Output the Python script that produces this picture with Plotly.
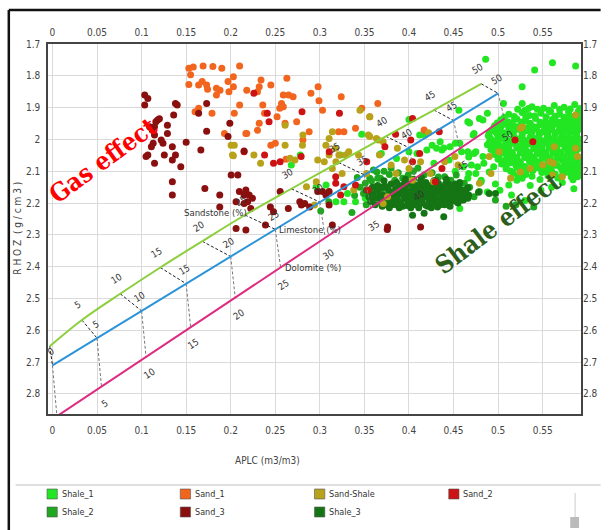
import plotly.graph_objects as go

# ---------------- data ----------------
PHI = [0, 5, 10, 15, 20, 25, 30, 35, 40, 45, 50]
SAND_APLC = [-0.003, 0.033, 0.076, 0.121, 0.168, 0.216, 0.268, 0.321, 0.374, 0.428, 0.481]
SAND_RHOB = [2.65, 2.5675, 2.485, 2.4025, 2.32, 2.2375, 2.155, 2.0725, 1.99, 1.9075, 1.825]
LIME_APLC = [0.0, 0.05, 0.10, 0.15, 0.20, 0.25, 0.30, 0.35, 0.40, 0.45, 0.50]
LIME_RHOB = [2.71, 2.6245, 2.539, 2.4535, 2.368, 2.2825, 2.197, 2.1115, 2.026, 1.9405, 1.855]
DOLO_APLC = [0.005, 0.055, 0.105, 0.155, 0.205, 0.256, 0.306, 0.357, 0.407, 0.457, 0.507]
DOLO_RHOB = [2.87, 2.7765, 2.683, 2.5895, 2.496, 2.4025, 2.309, 2.2155, 2.122, 2.0285, 1.935]

X_TICKS = [0, 0.05, 0.1, 0.15, 0.2, 0.25, 0.3, 0.35, 0.4, 0.45, 0.5, 0.55]
X_TICKTEXT = ["0", "0.05", "0.1", "0.15", "0.2", "0.25", "0.3", "0.35", "0.4", "0.45", "0.5", "0.55"]
Y_TICKS = [1.7, 1.8, 1.9, 2.0, 2.1, 2.2, 2.3, 2.4, 2.5, 2.6, 2.7, 2.8]
Y_TICKTEXT = ["1.7", "1.8", "1.9", "2", "2.1", "2.2", "2.3", "2.4", "2.5", "2.6", "2.7", "2.8"]

SERIES_NAMES = ["Shale_1", "Sand_1", "Sand-Shale", "Sand_2", "Shale_2", "Sand_3", "Shale_3"]
SERIES_COLORS = ["#22e622", "#f2651f", "#b8a21a", "#cc1212", "#1fa81f", "#8a0f0f", "#157515"]

SHALE_1 = [
    (0.522,1.905),(0.538,1.897),(0.551,1.902),(0.563,1.893),(0.574,1.899),(0.586,1.890),(0.592,1.903),
    (0.512,1.921),(0.527,1.915),(0.535,1.925),(0.548,1.918),(0.559,1.912),(0.569,1.921),(0.579,1.914),(0.588,1.922),
    (0.503,1.938),(0.511,1.945),(0.521,1.936),(0.531,1.942),(0.542,1.934),(0.553,1.944),(0.561,1.937),(0.570,1.946),(0.578,1.933),(0.585,1.941),(0.591,1.935),
    (0.496,1.957),(0.507,1.952),(0.517,1.960),(0.526,1.951),(0.538,1.958),(0.548,1.953),(0.556,1.961),(0.565,1.950),(0.574,1.957),(0.582,1.962),(0.589,1.952),
    (0.492,1.972),(0.501,1.967),(0.512,1.975),(0.522,1.968),(0.532,1.973),(0.543,1.966),(0.552,1.976),(0.560,1.969),(0.568,1.974),(0.577,1.965),(0.584,1.975),(0.591,1.968),
    (0.489,1.988),(0.499,1.983),(0.508,1.990),(0.517,1.981),(0.527,1.987),(0.536,1.992),(0.546,1.982),(0.556,1.989),(0.564,1.984),(0.572,1.991),(0.580,1.980),(0.588,1.987),
    (0.494,2.003),(0.504,1.998),(0.513,2.006),(0.523,1.999),(0.531,2.004),(0.542,1.997),(0.551,2.005),(0.559,1.999),(0.567,2.006),(0.576,1.998),(0.584,2.004),(0.591,1.999),
    (0.488,2.017),(0.498,2.013),(0.507,2.020),(0.516,2.012),(0.526,2.018),(0.535,2.014),(0.545,2.021),(0.554,2.012),(0.562,2.019),(0.571,2.013),(0.579,2.020),(0.587,2.014),
    (0.492,2.032),(0.502,2.028),(0.511,2.035),(0.521,2.027),(0.531,2.033),(0.540,2.029),(0.549,2.036),(0.557,2.027),(0.566,2.034),(0.575,2.028),(0.583,2.035),(0.590,2.029),
    (0.496,2.047),(0.506,2.043),(0.516,2.050),(0.525,2.042),(0.535,2.048),(0.544,2.044),(0.553,2.051),(0.562,2.043),(0.570,2.049),(0.578,2.042),(0.586,2.050),
    (0.500,2.062),(0.510,2.058),(0.520,2.065),(0.530,2.057),(0.541,2.063),(0.551,2.059),(0.560,2.066),(0.568,2.058),(0.577,2.064),(0.585,2.057),(0.592,2.063),
    (0.504,2.077),(0.514,2.073),(0.525,2.080),(0.536,2.072),(0.547,2.078),(0.557,2.074),(0.566,2.081),(0.575,2.073),(0.583,2.079),(0.590,2.074),
    (0.509,2.092),(0.521,2.088),(0.533,2.095),(0.545,2.089),(0.556,2.094),(0.570,2.088),(0.581,2.095),(0.590,2.089),
    (0.517,2.106),(0.531,2.110),(0.549,2.104),(0.564,2.109),(0.577,2.103),(0.588,2.110),
    (0.527,2.122),(0.547,2.126),(0.567,2.121),(0.584,2.127),
    (0.530,1.909),(0.544,1.905),(0.557,1.908),(0.569,1.906),(0.581,1.904),(0.590,1.911),
    (0.507,1.930),(0.518,1.928),(0.531,1.931),(0.541,1.926),(0.554,1.929),(0.564,1.927),(0.574,1.930),(0.583,1.928),(0.591,1.928),
    (0.499,1.948),(0.516,1.947),(0.526,1.945),(0.536,1.949),(0.547,1.946),(0.557,1.950),(0.566,1.944),(0.575,1.949),(0.582,1.947),(0.589,1.945),
    (0.495,1.963),(0.503,1.960),(0.512,1.964),(0.521,1.960),(0.533,1.963),(0.543,1.961),(0.552,1.964),(0.561,1.958),(0.569,1.963),(0.578,1.961),(0.586,1.957),(0.592,1.960),
    (0.490,1.979),(0.497,1.976),(0.506,1.979),(0.517,1.976),(0.527,1.979),(0.538,1.977),(0.548,1.978),(0.556,1.976),(0.564,1.979),(0.573,1.978),(0.581,1.977),(0.588,1.979),
    (0.491,1.995),(0.500,1.991),(0.509,1.997),(0.518,1.993),(0.527,1.996),(0.537,1.993),(0.546,1.996),(0.555,1.993),(0.563,1.996),(0.571,1.994),(0.580,1.992),(0.587,1.995),
    (0.490,2.010),(0.500,2.007),(0.509,2.011),(0.518,2.007),(0.527,2.011),(0.537,2.008),(0.546,2.011),(0.555,2.006),(0.563,2.012),(0.572,2.007),(0.580,2.011),(0.589,2.008),
    (0.495,2.024),(0.503,2.021),(0.512,2.026),(0.521,2.021),(0.530,2.025),(0.540,2.022),(0.549,2.026),(0.558,2.021),(0.566,2.025),(0.575,2.021),(0.583,2.026),(0.591,2.022),
    (0.497,2.040),(0.507,2.037),(0.516,2.041),(0.526,2.037),(0.535,2.041),(0.545,2.038),(0.554,2.041),(0.562,2.036),(0.570,2.041),(0.579,2.037),(0.587,2.041),
    (0.501,2.054),(0.511,2.051),(0.521,2.056),(0.530,2.052),(0.540,2.055),(0.549,2.052),(0.558,2.056),(0.566,2.051),(0.574,2.055),(0.582,2.051),(0.590,2.055),
    (0.505,2.069),(0.515,2.066),(0.525,2.070),(0.535,2.066),(0.546,2.070),(0.556,2.067),(0.564,2.071),(0.572,2.066),(0.581,2.070),(0.589,2.067),
    (0.509,2.084),(0.520,2.081),(0.530,2.085),(0.540,2.081),(0.551,2.085),(0.562,2.082),(0.576,2.085),(0.586,2.082),
    (0.514,2.099),(0.526,2.101),(0.539,2.098),(0.553,2.099),(0.560,2.100),(0.572,2.097),(0.584,2.100),(0.592,2.098),
    (0.522,2.114),(0.538,2.116),(0.556,2.114),(0.572,2.113),(0.582,2.117),(0.591,2.113),
    (0.486,1.748),(0.561,1.759),(0.587,1.769),(0.541,1.782),(0.527,1.834),(0.506,1.887),(0.527,1.887),(0.534,1.903),
    (0.488,1.918),(0.483,1.939),(0.479,1.934),(0.456,1.908),(0.400,1.937),(0.468,1.948),(0.473,1.981),(0.466,1.944),
    (0.472,1.986),(0.412,1.986),(0.418,1.986),(0.426,2.018),(0.431,2.028),(0.435,2.007),(0.437,2.033),(0.420,2.033),
    (0.446,2.023),(0.452,2.012),(0.457,2.012),(0.459,2.039),(0.466,2.039),(0.475,2.039),(0.483,2.054),(0.470,2.080),
    (0.477,2.086),(0.490,2.102),(0.481,2.133),(0.466,2.122),(0.459,2.170),(0.457,2.217),(0.369,2.044),(0.386,2.060),
    (0.409,2.044),(0.400,2.039),(0.347,1.984),(0.367,2.047),(0.323,2.049),(0.278,2.049),(0.268,2.080),(0.318,2.196),
    (0.327,2.196),(0.340,2.196),(0.351,2.185),(0.331,2.170),(0.296,2.149),(0.307,2.143),(0.439,2.027),(0.467,2.055),
    (0.461,2.086),(0.467,2.107),(0.481,2.128),(0.488,2.165),(0.475,2.107),(0.484,2.075),(0.495,2.086),(0.508,2.065),
    (0.512,2.143),(0.521,2.128),(0.589,2.117),(0.473,2.044),(0.502,2.160),(0.515,2.175),(0.536,2.145),(0.548,2.160),
    (0.585,2.155),(0.572,2.135),(0.497,2.140),(0.530,2.192),(0.560,2.150),(0.445,2.065),(0.428,2.075),(0.452,2.100),
]

SHALE_2 = [
    (0.360,2.096),(0.365,2.122),(0.358,2.130),(0.349,2.170),(0.384,2.128),(0.393,2.122),(0.417,2.112),(0.440,2.117),
    (0.462,2.138),(0.455,2.159),(0.351,2.138),(0.356,2.122),(0.362,2.149),(0.368,2.122),(0.371,2.154),(0.358,2.175),
    (0.364,2.102),(0.372,2.100),(0.310,2.196),(0.301,2.225),(0.378,2.110),(0.388,2.105),(0.399,2.112),(0.405,2.100),
    (0.426,2.105),(0.433,2.118),(0.447,2.128),(0.453,2.112),(0.468,2.150),(0.473,2.180),(0.479,2.164),(0.345,2.150),
    (0.339,2.176),(0.352,2.205),(0.342,2.120),(0.380,2.090),(0.410,2.090),(0.336,2.230),(0.497,2.190),(0.509,2.210),
    (0.520,2.205),(0.540,2.212),
]

SHALE_3 = [
    (0.358,2.170),(0.362,2.185),(0.366,2.158),(0.369,2.200),(0.371,2.175),(0.374,2.148),(0.376,2.190),(0.378,2.165),
    (0.381,2.205),(0.383,2.180),(0.385,2.155),(0.386,2.135),(0.388,2.195),(0.390,2.170),(0.392,2.150),(0.393,2.210),
    (0.395,2.185),(0.397,2.162),(0.399,2.140),(0.400,2.198),(0.402,2.175),(0.404,2.155),(0.405,2.125),(0.407,2.205),
    (0.409,2.185),(0.410,2.165),(0.412,2.145),(0.414,2.195),(0.416,2.175),(0.417,2.155),(0.419,2.135),(0.421,2.210),
    (0.422,2.188),(0.424,2.168),(0.426,2.148),(0.428,2.198),(0.429,2.178),(0.431,2.158),(0.433,2.138),(0.435,2.190),
    (0.436,2.170),(0.438,2.150),(0.440,2.205),(0.442,2.182),(0.443,2.162),(0.445,2.142),(0.447,2.195),(0.449,2.175),
    (0.450,2.155),(0.452,2.185),(0.454,2.165),(0.456,2.148),(0.458,2.178),(0.460,2.160),(0.463,2.170),(0.466,2.152),
    (0.396,2.125),(0.414,2.120),(0.430,2.128),(0.380,2.140),(0.372,2.130),(0.365,2.145),(0.389,2.215),(0.411,2.215),
    (0.432,2.212),(0.446,2.210),(0.404,2.238),(0.417,2.232),(0.439,2.243),(0.378,2.215),(0.352,2.160),(0.357,2.195),
    (0.400,2.180),(0.420,2.160),(0.440,2.170),(0.425,2.185),(0.393,2.165),(0.415,2.200),(0.437,2.195),(0.408,2.145),
    (0.385,2.175),(0.448,2.160),(0.455,2.200),(0.461,2.190),(0.467,2.175),(0.427,2.140),(0.398,2.190),(0.418,2.180),
    (0.443,2.180),(0.382,2.195),(0.367,2.178),(0.375,2.205),(0.406,2.165),(0.434,2.165),(0.452,2.140),(0.362,2.205),
    (0.490,2.170),(0.497,2.170),(0.478,2.166),
    (0.360,2.178),(0.364,2.162),(0.368,2.190),(0.370,2.150),(0.373,2.182),(0.377,2.158),(0.379,2.198),(0.380,2.175),
    (0.384,2.165),(0.387,2.185),(0.389,2.145),(0.391,2.200),(0.394,2.175),(0.396,2.152),(0.398,2.208),(0.401,2.165),
    (0.403,2.190),(0.405,2.140),(0.408,2.175),(0.410,2.200),(0.411,2.155),(0.413,2.130),(0.415,2.185),(0.418,2.165),
    (0.419,2.207),(0.421,2.145),(0.423,2.178),(0.425,2.200),(0.426,2.160),(0.428,2.130),(0.430,2.188),(0.432,2.168),
    (0.433,2.148),(0.435,2.205),(0.437,2.180),(0.439,2.160),(0.441,2.140),(0.441,2.193),(0.444,2.172),(0.446,2.152),
    (0.448,2.185),(0.450,2.165),(0.451,2.145),(0.453,2.195),(0.455,2.175),(0.457,2.158),(0.459,2.190),(0.461,2.170),
    (0.464,2.160),(0.466,2.185),(0.386,2.205),(0.402,2.215),(0.425,2.215),(0.395,2.138),(0.417,2.142),(0.370,2.210),
    (0.355,2.180),(0.359,2.150),(0.442,2.125),(0.457,2.135),
]

SAND_1 = [
    (0.153,1.776),(0.169,1.769),(0.180,1.771),(0.190,1.776),(0.210,1.769),(0.155,1.797),(0.168,1.818),(0.164,1.829),
    (0.173,1.829),(0.174,1.842),(0.184,1.839),(0.188,1.845),(0.197,1.818),(0.203,1.803),(0.203,1.834),(0.198,1.850),
    (0.218,1.845),(0.153,1.827),(0.184,1.860),(0.164,1.902),(0.160,1.913),(0.179,1.918),(0.204,1.918),(0.210,1.892),
    (0.217,1.981),(0.193,1.981),(0.232,1.834),(0.230,1.850),(0.234,1.813),(0.245,1.829),(0.263,1.808),(0.259,1.860),
    (0.265,1.860),(0.270,1.866),(0.257,1.887),(0.255,1.902),(0.259,1.897),(0.298,1.834),(0.290,1.855),(0.299,1.878),
    (0.303,1.908),(0.324,1.866),(0.347,1.902),(0.365,1.887),(0.218,1.981),(0.230,1.971),(0.232,1.949),(0.238,1.918),
    (0.245,2.018),(0.250,2.012),(0.261,1.949),(0.274,1.944),(0.288,1.976),(0.281,2.002),(0.321,1.976),(0.327,1.976),
    (0.340,1.965),(0.252,1.929),(0.356,1.929),(0.417,1.970),(0.158,1.772),(0.262,2.062),(0.236,1.892),
]

SAND_SHALE = [
    (0.2005,2.018),(0.203,2.051),(0.202,2.049),(0.226,2.049),(0.2335,2.075),(0.261,2.018),(0.261,1.955),(0.281,1.986),
    (0.2805,2.018),(0.272,2.065),(0.2665,2.059),(0.2976,2.065),(0.3068,2.018),(0.3104,1.997),(0.314,1.976),(0.3178,2.028),
    (0.3104,2.049),(0.305,2.070),(0.318,2.070),(0.3214,2.049),(0.3288,2.049),(0.314,2.091),(0.325,2.107),(0.3324,2.039),
    (0.345,1.908),(0.356,1.929),(0.3544,1.986),(0.3635,1.997),(0.371,2.007),(0.3434,2.049),(0.296,2.133),(0.285,2.149),
    (0.294,2.206),(0.338,2.159),(0.204,2.018),(0.356,1.991),(0.3654,2.002),(0.422,1.979),(0.367,2.049),(0.387,2.028),
    (0.395,2.065),(0.380,2.080),(0.400,2.091),(0.413,2.070),(0.424,2.107),(0.3855,2.107),(0.404,2.128),(0.4277,2.133),
    (0.4515,2.054),(0.455,2.080),(0.376,2.180),(0.371,2.201),(0.3525,2.107),(0.440,2.070),(0.525,1.965),(0.501,2.039),
    (0.490,2.054),(0.492,2.107),(0.479,2.138),(0.514,2.122),(0.525,2.102),(0.536,2.091),(0.550,2.080),(0.563,2.023),
    (0.572,2.117),(0.587,2.028),(0.589,2.054),(0.561,2.112),(0.558,2.070),(0.587,1.923),(0.527,1.961),(0.562,2.075),
]

SAND_2 = [
    (0.226,1.855),(0.241,1.918),(0.243,1.944),(0.280,1.913),(0.322,1.918),(0.215,2.039),(0.238,2.049),(0.248,2.075),
    (0.2555,2.070),(0.279,2.054),(0.3105,2.039),(0.3178,2.117),(0.3178,2.138),(0.327,2.149),(0.3233,2.175),(0.340,2.143),
    (0.404,1.934),(0.385,1.984),(0.434,1.976),(0.402,2.002),(0.373,2.023),(0.3526,2.070),(0.404,2.070),(0.412,2.044),
    (0.437,2.091),(0.4295,2.133),(0.354,2.159),(0.519,2.002),(0.539,2.007),
]

SAND_3 = [
    (0.1035,1.860),(0.107,1.871),(0.1035,1.892),(0.138,1.887),(0.140,1.892),(0.136,1.923),(0.118,1.939),(0.116,1.944),
    (0.1145,1.960),(0.109,1.960),(0.129,1.955),(0.129,1.981),(0.1145,1.986),(0.113,2.012),(0.111,2.023),(0.107,2.049),
    (0.105,2.054),(0.122,2.002),(0.124,2.012),(0.1255,2.049),(0.1345,2.023),(0.138,2.049),(0.1345,2.065),(0.144,2.086),
    (0.1145,2.075),(0.1345,2.133),(0.1345,2.175),(0.150,2.009),(0.1665,2.033),(0.173,1.974),(0.173,1.887),(0.164,1.918),
    (0.199,1.949),(0.197,1.991),(0.215,2.036),(0.2005,2.112),(0.208,2.112),(0.171,2.154),(0.1877,2.175),(0.2097,2.164),
    (0.215,2.175),(0.219,2.196),(0.1877,2.212),(0.217,2.159),(0.2207,2.175),(0.2244,2.185),(0.215,2.201),(0.206,2.196),
    (0.2225,2.217),(0.2445,2.212),(0.248,2.227),(0.2555,2.164),(0.2646,2.217),(0.2775,2.196),(0.2793,2.206),(0.283,2.201),
    (0.2885,2.212),(0.2976,2.164),(0.303,2.164),(0.3068,2.175),(0.3104,2.164),(0.217,2.285),(0.206,2.280),(0.239,2.269),
    (0.314,2.269),(0.3104,2.206),(0.3756,2.283),(0.413,2.275),(0.376,2.275),(0.120,1.935),(0.112,1.970),
]

SERIES_POINTS = [SHALE_1, SAND_1, SAND_SHALE, SAND_2, SHALE_2, SAND_3, SHALE_3]
DRAW_ORDER = [0, 4, 6, 1, 2, 3, 5]

# ---------------- geometry helpers (pixel -> paper) ----------------
W, H = 610, 530
ML, MR, MT, MB = 48, 18, 44, 116
PW, PH = W - ML - MR, H - MT - MB


def pp(px, py):
    return (px - ML) / PW, (MT + PH - py) / PH


fig = go.Figure()

for i in DRAW_ORDER:
    pts = SERIES_POINTS[i]
    fig.add_trace(go.Scatter(
        x=[p[0] for p in pts], y=[p[1] for p in pts], mode="markers",
        name=SERIES_NAMES[i], showlegend=False,
        marker=dict(size=7, color=SERIES_COLORS[i], line=dict(width=0)),
    ))

# connectors sandstone -> limestone -> dolomite
cx, cy = [], []
for k in range(len(PHI)):
    cx += [SAND_APLC[k], LIME_APLC[k], None]
    cy += [SAND_RHOB[k], LIME_RHOB[k], None]
fig.add_trace(go.Scatter(x=cx, y=cy, mode="lines", showlegend=False, hoverinfo="skip",
                         line=dict(color="#222222", width=1, dash="3px,2px")))
dx, dy = [], []
for k in range(len(PHI)):
    dx += [LIME_APLC[k], DOLO_APLC[k], None]
    dy += [LIME_RHOB[k], DOLO_RHOB[k], None]
fig.add_trace(go.Scatter(x=dx, y=dy, mode="lines", showlegend=False, hoverinfo="skip",
                         line=dict(color="#777777", width=1, dash="3px,2px")))

fig.add_trace(go.Scatter(x=SAND_APLC, y=SAND_RHOB, mode="lines", line=dict(color="#8ccf3c", width=2, shape="spline"), showlegend=False))
fig.add_trace(go.Scatter(x=LIME_APLC, y=LIME_RHOB, mode="lines", line=dict(color="#2d93d8", width=2), showlegend=False))
fig.add_trace(go.Scatter(x=DOLO_APLC, y=DOLO_RHOB, mode="lines", line=dict(color="#de2a80", width=2), showlegend=False))

# dummy trace for top/right axes
fig.add_trace(go.Scatter(x=[None], y=[None], xaxis="x2", yaxis="y2", showlegend=False))

XR = [-0.005, 0.593]
YR = [2.863, 1.7]

NARROW = "Liberation Sans Narrow, DejaVu Sans Condensed, sans-serif"
ann = []
lab_font = dict(family=NARROW, size=9.5, color="#333333")
for k, p in enumerate(PHI):
    if SAND_APLC[k] > XR[0] + 0.004:
        ann.append(dict(x=SAND_APLC[k], y=SAND_RHOB[k], text=str(p), showarrow=False, xshift=-4, yshift=15,
                        textangle=-31, font=lab_font))
    ann.append(dict(x=LIME_APLC[k], y=LIME_RHOB[k], text=str(p), showarrow=False, xshift=-2, yshift=14,
                    textangle=-31, font=lab_font))
    if DOLO_RHOB[k] < YR[0]:
        ann.append(dict(x=DOLO_APLC[k], y=DOLO_RHOB[k], text=str(p), showarrow=False, xshift=3, yshift=-17,
                        textangle=-33, font=lab_font))

ann.append(dict(x=SAND_APLC[5], y=SAND_RHOB[5], text="Sandstone (%)", showarrow=False, xanchor="right",
                yanchor="middle", xshift=4, yshift=3, font=lab_font))
ann.append(dict(x=LIME_APLC[5], y=LIME_RHOB[5], text="Limestone (%)", showarrow=False, xanchor="left",
                yanchor="middle", xshift=2, yshift=0, font=lab_font))
ann.append(dict(x=DOLO_APLC[5], y=DOLO_RHOB[5], text="Dolomite (%)", showarrow=False, xanchor="left",
                yanchor="middle", xshift=2, yshift=0, font=lab_font))


def pann(px, py, text, font, angle=0, xanchor="center"):
    ax_, ay_ = pp(px, py)
    return dict(xref="paper", yref="paper", x=ax_, y=ay_, text=text, showarrow=False, textangle=angle,
                xanchor=xanchor, yanchor="middle", font=font)


ann.append(pann(104, 160, "Gas effect",
                dict(family="DejaVu Serif Condensed, DejaVu Serif, serif", size=25, color="#ff0000", weight="bold"), -36))
ann.append(pann(507, 223, "Shale effect",
                dict(family="DejaVu Serif Condensed, DejaVu Serif, serif", size=25, color="#2d5e1c", weight="bold"), -37))
ann.append(pann(272, 460, "APLC (m3/m3)", dict(family=NARROW, size=10, color="#444444")))
ann.append(pann(16, 228, "R H O Z  ( g / c m 3 )", dict(family=NARROW, size=10, color="#444444"), -90))

# legend (manual)
shapes = []
LEG_COLS = [47, 183, 320, 457]
LEG_ROWS = [494, 512]
for i, name in enumerate(SERIES_NAMES):
    r, c = divmod(i, 4)
    x0, yc = LEG_COLS[c], LEG_ROWS[r]
    a0, b0 = pp(x0, yc + 5)
    a1, b1 = pp(x0 + 10.5, yc - 5)
    shapes.append(dict(type="rect", xref="paper", yref="paper", x0=a0, y0=b0, x1=a1, y1=b1,
                       fillcolor=SERIES_COLORS[i], line=dict(color="#555555", width=0.6)))
    ann.append(pann(x0 + 13, yc, name, dict(family=NARROW, size=9, color="#333333"), 0, "left"))


def line_px(x0, y0, x1, y1, color, width):
    a0, b0 = pp(x0, y0)
    a1, b1 = pp(x1, y1)
    return dict(type="line", xref="paper", yref="paper", x0=a0, y0=b0, x1=a1, y1=b1, line=dict(color=color, width=width))


shapes.append(line_px(8, 10, 612, 10, "#111111", 2.5))
shapes.append(line_px(8, 10, 8, 532, "#111111", 2.5))
shapes.append(line_px(15, 485, 612, 485, "#d4d4d4", 1.5))
shapes.append(line_px(586, 493, 586, 518, "#cccccc", 1))
a0, b0 = pp(581, 528)
a1, b1 = pp(590, 517)
shapes.append(dict(type="rect", xref="paper", yref="paper", x0=a0, y0=b0, x1=a1, y1=b1,
                   fillcolor="#bbbbbb", line=dict(width=0)))

tick_font = dict(family=NARROW, size=10, color="#444444")
common_x = dict(range=XR, tickvals=X_TICKS, ticktext=X_TICKTEXT, tickfont=tick_font, zeroline=False)
common_y = dict(range=YR, tickvals=Y_TICKS, ticktext=Y_TICKTEXT, tickfont=tick_font, zeroline=False)

fig.update_layout(
    width=W, height=H, margin=dict(l=ML, r=MR, t=MT, b=MB),
    paper_bgcolor="white", plot_bgcolor="white", showlegend=False,
    xaxis=dict(**common_x, showgrid=True, gridcolor="#dadada", gridwidth=1,
               showline=True, linecolor="#444444", linewidth=1.5, mirror=True, ticklabelstandoff=6),
    yaxis=dict(**common_y, showgrid=True, gridcolor="#dadada", gridwidth=1,
               showline=True, linecolor="#444444", linewidth=1.5, mirror=True, ticklabelstandoff=4),
    xaxis2=dict(**common_x, overlaying="x", side="top", showgrid=False, showline=False, ticklabelstandoff=5),
    yaxis2=dict(**common_y, overlaying="y", side="right", showgrid=False, showline=False, ticklabelstandoff=1),
    annotations=ann, shapes=shapes,
)

fig.write_html("out.html")
